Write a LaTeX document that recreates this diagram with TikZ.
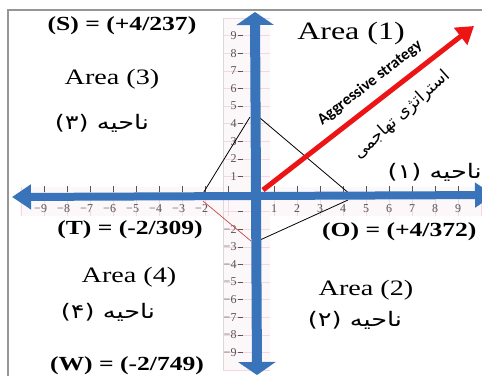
\documentclass[tikz,border=0pt]{standalone}
\usepackage{fontspec}
\usepackage{graphicx}
\setmainfont{Liberation Serif}
\newfontfamily\arabicfont[Script=Arabic]{DejaVu Sans}
\newfontfamily\narrowfont{Carlito}
\TeXXeTstate=1
\usetikzlibrary{arrows.meta}

\definecolor{axisblue}{RGB}{57,115,185}
\definecolor{gridpink}{RGB}{245,214,226}
\definecolor{paper}{RGB}{252,248,250}
\definecolor{numgray}{RGB}{85,85,85}
\definecolor{framegray}{RGB}{150,150,150}
\definecolor{thinred}{RGB}{205,70,70}
\definecolor{aggred}{RGB}{236,20,20}

\newcommand{\wide}[1]{\scalebox{1.28}[1]{#1}}
\newcommand{\fa}[1]{{\arabicfont\beginR #1\endR}}

\begin{document}
\begin{tikzpicture}[x=1pt, y=-1pt,
  coordlbl/.style={font=\bfseries\fontsize{20}{22}\selectfont, inner sep=0pt},
  arealbl/.style={font=\fontsize{22}{24}\selectfont, inner sep=0pt},
  zonelbl/.style={font=\fontsize{20}{22}\selectfont, inner sep=0pt},
  num/.style={font=\fontsize{12}{13}\selectfont, text=numgray, inner sep=0.5pt},
  tickmark/.style={draw=numgray, line width=0.6pt},
  sideline/.style={draw=black, line width=0.8pt}
]
\useasboundingbox (0,0) rectangle (482,376);

% frame
\draw[framegray, line width=1.2pt] (8,376) -- (8,10) -- (482,10);

% graph paper
\fill[paper] (223,18) rectangle (270,370);
\fill[paper] (20,187) rectangle (482,216);
\draw[gray!30] (223,370) -- (223,18) -- (270,18);
\begin{scope}[shift={(251,194)}, x=23pt, y=17.6pt]
  \foreach \k in {-10,...,10}
    \draw[gridpink, line width=0.4pt] (\k,0.4) -- (\k,-1.25);
  \foreach \k in {-10,...,10}
    \draw[gridpink, line width=0.4pt] (-1.22,\k) -- (0.83,\k);
  \foreach \k in {1,...,9} {
    \draw[tickmark] (\k,0.12) -- (\k,0.45);
    \draw[tickmark] (-\k,0.12) -- (-\k,0.45);
    \draw[tickmark] (-0.58,\k) -- (-0.35,\k);
    \draw[tickmark] (-0.58,-\k) -- (-0.35,-\k);
  }
  \foreach \k in {1,...,9}
    \node[num] (xp\k) at (\k,-0.85) {\k};
  \foreach \k in {2,...,9}
    \node[num] (xm\k) at (-\k,-0.85) {\llap{−}\k};
  \foreach \k in {1,...,9}
    \node[num, anchor=east] (yp\k) at (-0.6,\k) {\k};
  \foreach \k in {2,...,9}
    \node[num, anchor=east] (ym\k) at (-0.6,-\k) {−\k};
\end{scope}

% quadrilateral
\coordinate (pT) at (202,195);
\coordinate (pSL) at (250,117);
\coordinate (pSR) at (260,118);
\coordinate (pO) at (351,195);
\coordinate (pOB) at (348,200);
\coordinate (pWR) at (260,240);
\coordinate (pTB) at (203,201);
\coordinate (pWL) at (251,241);
\draw[sideline] (pT) -- (pSL);
\draw[sideline] (pSR) -- (pO);
\draw[sideline] (pOB) -- (pWR);
\draw[thinred, line width=0.7pt] (pTB) -- (pWL);

% axes
\coordinate (ytop) at (255,12);
\coordinate (ybot) at (257,375);
\coordinate (xleft) at (12,197);
\coordinate (xright) at (494,195);
\draw[axisblue, line width=8pt, {Triangle[width=24pt,length=19pt]}-{Triangle[width=24pt,length=19pt]}] (xleft) -- (xright);
\draw[axisblue, line width=10pt, {Triangle[width=37pt,length=13pt]}-{Triangle[width=37pt,length=13pt]}] (ybot) -- (ytop);

% aggressive strategy
\coordinate (orig) at (263,190);
\coordinate (aggtip) at (474,26);
\draw[aggred, line width=5pt, -{Triangle[width=21pt,length=17pt]}] (orig) -- (aggtip);
\node[font=\narrowfont\bfseries\fontsize{16}{18}\selectfont, rotate=38, inner sep=0pt] (agg) at (370,83) {Aggressive strategy};
\node[font=\fontsize{17}{19}\selectfont, rotate=42, inner sep=0pt] (aggfa) at (402,115) {\fa{استراتژی تهاجمی}};

% labels
\node[coordlbl] (S) at (122,26) {\wide{(S) = (+4/237)}};
\node[arealbl] (a3) at (112,79) {\wide{Area (3)}};
\node[zonelbl] (z3) at (102,123) {\wide{\fa{ناحیه (۳)}}};
\node[coordlbl] (T) at (130,230) {\wide{(T) = (-2/309)}};
\node[arealbl] (a4) at (129,277) {\wide{Area (4)}};
\node[zonelbl] (z4) at (108,312) {\wide{\fa{ناحیه (۴)}}};
\node[coordlbl] (W) at (127,366) {\wide{(W) = (-2/749)}};
\node[arealbl, font=\fontsize{25}{27}\selectfont] (a1) at (351,33) {\wide{Area (1)}};
\node[zonelbl, anchor=east] (z1) at (482,172) {\wide{\fa{ناحیه (۱)}}};
\node[coordlbl, anchor=west] (O) at (322,232) {\wide{(O) = (+4/372)}};
\node[arealbl] (a2) at (366,290) {\wide{Area (2)}};
\node[zonelbl] (z2) at (355,320) {\wide{\fa{ناحیه (۲)}}};
\end{tikzpicture}
\end{document}
